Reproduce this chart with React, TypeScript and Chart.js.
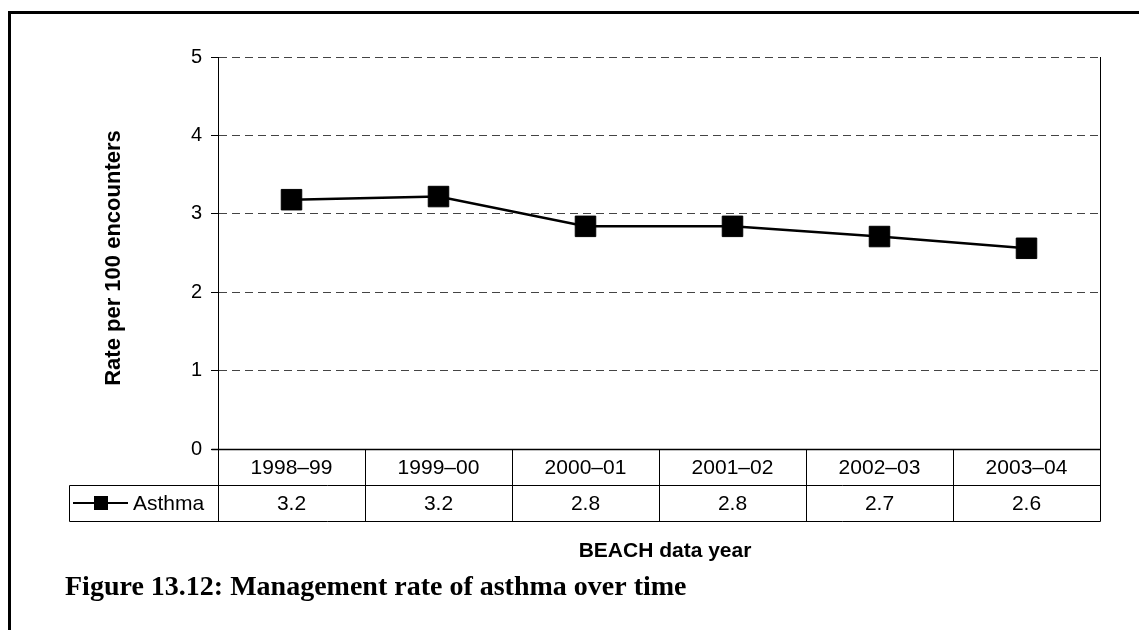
import React, { useEffect, useRef } from "react";
import { Chart, registerables } from "chart.js";

Chart.register(...registerables);

const categories = ["1998–99", "1999–00", "2000–01", "2001–02", "2002–03", "2003–04"];
const asthmaValues = [3.18, 3.22, 2.84, 2.84, 2.71, 2.56];
const asthmaTableLabels = ["3.2", "3.2", "2.8", "2.8", "2.7", "2.6"];
const yTickValues = [0, 1, 2, 3, 4, 5];
const seriesName = "Asthma";
const yTitle = "Rate per 100 encounters";
const xTitle = "BEACH data year";
const caption = "Figure 13.12: Management rate of asthma over time";

const W = 1139;
const H = 630;
const SANS = '"Liberation Sans", Arial, sans-serif';
const SERIF = '"Liberation Serif", "Times New Roman", serif';

function seg(ctx: CanvasRenderingContext2D, x1: number, y1: number, x2: number, y2: number) {
  ctx.beginPath();
  ctx.moveTo(x1, y1);
  ctx.lineTo(x2, y2);
  ctx.stroke();
}

const tablePlugin = {
  id: "tableAndFrame",
  afterDraw(chart: any) {
    const ctx: CanvasRenderingContext2D = chart.ctx;
    const { left, right, top, bottom } = chart.chartArea;
    const xs = chart.scales.x;
    const n = categories.length;
    const colW = (right - left) / n;
    const row1B = bottom + 36;
    const row2B = row1B + 36;
    const legL = 69;
    const L = Math.round(left) + 0.5;
    const R = Math.round(right) + 0.5;
    const B = Math.round(bottom) + 0.5;
    const r1 = Math.round(row1B) + 0.5;
    const r2 = Math.round(row2B) + 0.5;

    ctx.save();
    ctx.setLineDash([]);
    ctx.strokeStyle = "#000";

    // page frame
    ctx.lineWidth = 3;
    seg(ctx, 9.5, 11, 9.5, H);
    seg(ctx, 8, 12.5, W, 12.5);

    // plot frame & table grid
    ctx.lineWidth = 1;
    seg(ctx, R, top, R, r2);
    seg(ctx, L, top, L, r2);
    ctx.lineWidth = 1.4;
    seg(ctx, L - 7, B, R, B);
    ctx.lineWidth = 1;
    seg(ctx, legL + 0.5, r1, R, r1);
    seg(ctx, legL + 0.5, r2, R, r2);
    seg(ctx, legL + 0.5, r1, legL + 0.5, r2);
    for (let i = 1; i < n; i++) {
      const cx = Math.round(left + colW * i) + 0.5;
      seg(ctx, cx, B, cx, r2);
    }

    // table text
    ctx.fillStyle = "#000";
    ctx.font = `21px ${SANS}`;
    ctx.textAlign = "center";
    ctx.textBaseline = "middle";
    const y1 = (bottom + row1B) / 2 + 1;
    const y2 = (row1B + row2B) / 2 + 1;
    categories.forEach((c, i) => {
      const px = xs.getPixelForValue(i);
      ctx.fillText(c, px, y1);
      ctx.fillText(asthmaTableLabels[i], px, y2);
    });

    // legend key
    ctx.lineWidth = 2;
    seg(ctx, 73, y2 - 1, 128, y2 - 1);
    ctx.fillRect(101 - 7, y2 - 1 - 7, 14, 14);
    ctx.textAlign = "left";
    ctx.fillText(seriesName, 133, y2);

    // axis titles
    ctx.font = `bold 21px ${SANS}`;
    ctx.textAlign = "center";
    ctx.textBaseline = "alphabetic";
    ctx.fillText(xTitle, 665, 557);

    ctx.save();
    ctx.translate(114, 258);
    ctx.rotate(-Math.PI / 2);
    ctx.font = `bold 22px ${SANS}`;
    ctx.textBaseline = "middle";
    ctx.fillText(yTitle, 0, 0);
    ctx.restore();

    // caption
    ctx.font = `bold 28px ${SERIF}`;
    ctx.textAlign = "left";
    ctx.textBaseline = "alphabetic";
    ctx.fillText(caption, 65, 595);

    ctx.restore();
  },
};

export default function App() {
  const ref = useRef<HTMLCanvasElement | null>(null);

  useEffect(() => {
    if (!ref.current) return;
    const chart = new Chart(ref.current, {
      type: "line",
      data: {
        labels: categories,
        datasets: [
          {
            label: seriesName,
            data: asthmaValues,
            borderColor: "#000",
            borderWidth: 2.5,
            backgroundColor: "#000",
            pointStyle: "rect",
            pointRadius: 14.5,
            pointBackgroundColor: "#000",
            pointBorderColor: "#000",
            pointBorderWidth: 1,
            tension: 0,
          },
        ],
      },
      options: {
        responsive: false,
        animation: false,
        events: [],
        layout: { padding: { left: 0, top: 57, right: 39, bottom: 181 } },
        plugins: {
          legend: { display: false },
          tooltip: { enabled: false },
          title: { display: false },
        },
        scales: {
          x: {
            type: "category",
            offset: true,
            display: false,
          },
          y: {
            min: 0,
            max: 5,
            afterFit: (scale: any) => {
              scale.width = 218;
            },
            afterBuildTicks: (scale: any) => {
              scale.ticks = yTickValues.map((v) => ({ value: v }));
            },
            ticks: {
              color: "#000",
              font: { family: SANS, size: 20 },
              padding: 9,
            },
            grid: {
              color: "#444",
              lineWidth: 1,
              tickLength: 7,
              tickColor: "#000",
              tickWidth: 1,
              tickBorderDash: [],
            },
            border: {
              display: true,
              color: "#000",
              width: 1,
              dash: [8, 5],
            },
          },
        },
      },
      plugins: [tablePlugin],
    });
    return () => chart.destroy();
  }, []);

  return (
    <div style={{ position: "absolute", left: 0, top: 0, width: W, height: H, background: "#fff" }}>
      <canvas ref={ref} width={W} height={H} style={{ display: "block", width: W, height: H }} />
    </div>
  );
}
